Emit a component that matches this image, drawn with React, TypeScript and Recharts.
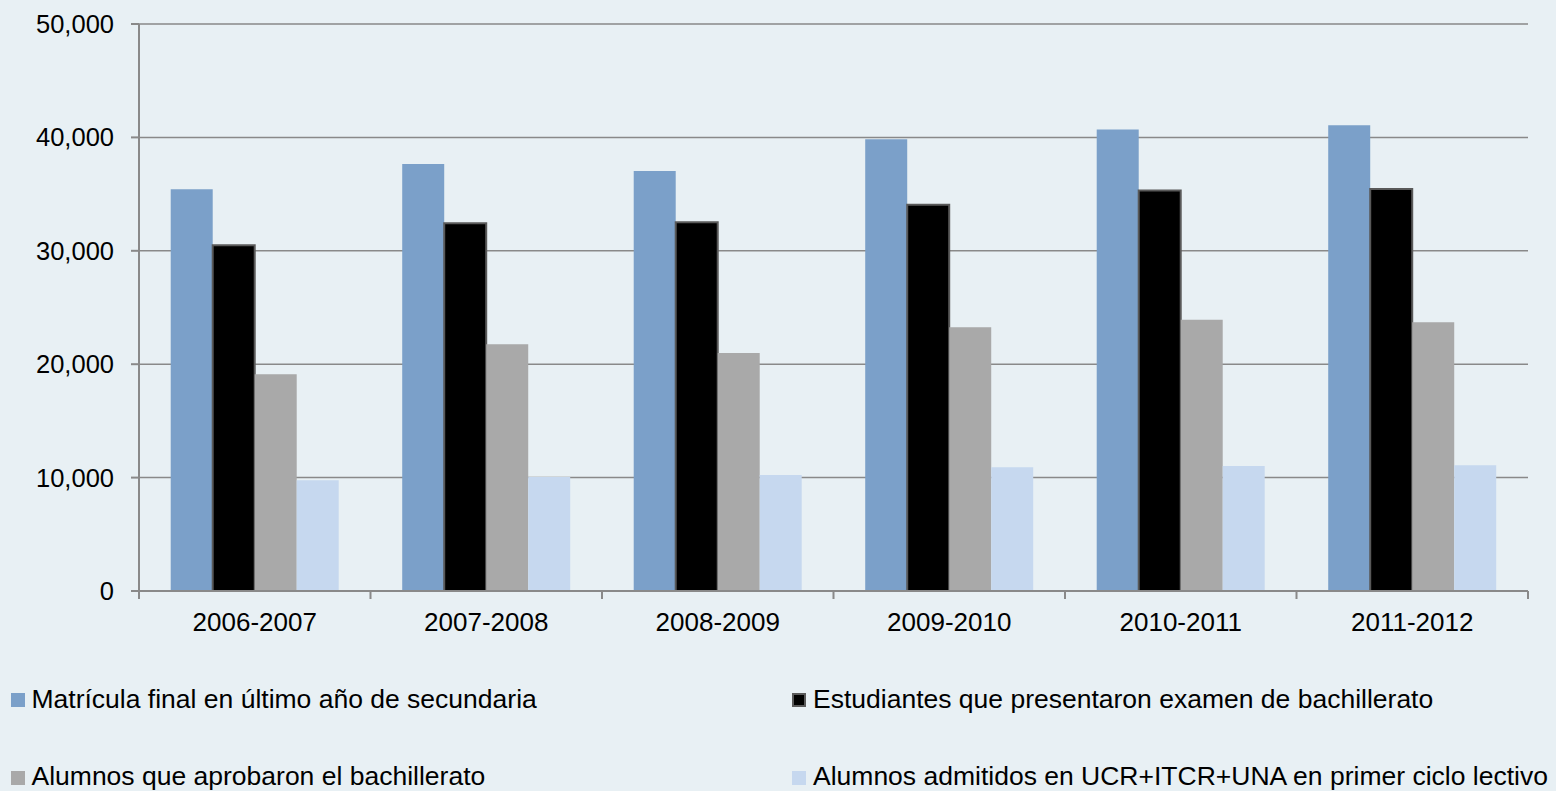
import React from 'react';
import { BarChart, Bar, XAxis, YAxis, CartesianGrid, Legend } from 'recharts';

const categories = ['2006-2007', '2007-2008', '2008-2009', '2009-2010', '2010-2011', '2011-2012'];
const matricula = [35420, 37650, 37040, 39830, 40690, 41070];
const presentaron = [30490, 32420, 32510, 34070, 35310, 35450];
const aprobaron = [19110, 21760, 20990, 23250, 23930, 23690];
const admitidos = [9760, 10050, 10230, 10910, 11020, 11080];
const seriesNames = [
  'Matrícula final en último año de secundaria',
  'Estudiantes que presentaron examen de bachillerato',
  'Alumnos que aprobaron el bachillerato',
  'Alumnos admitidos en UCR+ITCR+UNA en primer ciclo lectivo',
];
const seriesColors = ['#7ba0c9', '#000000', '#a9a9a9', '#c6d8ef'];
const yTicks = [0, 10000, 20000, 30000, 40000, 50000];

const data = categories.map((c, i) => ({
  cat: c,
  s0: matricula[i],
  s1: presentaron[i],
  s2: aprobaron[i],
  s3: admitidos[i],
}));

const AXIS = '#898989';
const FONT = '"Liberation Sans", Arial, sans-serif';

const XTick = (props: any) => {
  const { x, y, payload, index, visibleTicksCount } = props;
  const half = payload && payload.offset ? payload.offset : (1556 - 139 - 28) / 12;
  const axisY = y - 8;
  const isLast = index === (visibleTicksCount ?? categories.length) - 1;
  return (
    <g>
      <line x1={x - half} x2={x - half} y1={axisY} y2={axisY + 8} stroke={AXIS} strokeWidth={2} />
      {isLast && <line x1={x + half} x2={x + half} y1={axisY} y2={axisY + 8} stroke={AXIS} strokeWidth={2} />}
      <text x={x} y={axisY + 40} textAnchor="middle" fontSize={26} fontFamily={FONT} fill="#000">
        {payload.value}
      </text>
    </g>
  );
};

const LegendContent = (props: any) => {
  const payload = [...(props.payload || [])].sort(
    (a: any, b: any) => seriesNames.indexOf(a.value) - seriesNames.indexOf(b.value)
  );
  return (
    <div style={{ position: 'relative', width: 1556, height: 791 }}>
      {payload.map((p: any, i: number) => {
        const col = i % 2;
        const row = Math.floor(i / 2);
        const markerLeft = col === 0 ? 11 : 792;
        const textLeft = col === 0 ? 31.5 : 813;
        const baseline = row === 0 ? 708 : 785.5;
        const isBlack = p.color === '#000000';
        return (
          <React.Fragment key={i}>
            <div
              style={{
                position: 'absolute',
                left: markerLeft,
                top: baseline - 15,
                width: 14,
                height: 14,
                background: p.color,
                boxSizing: 'border-box',
                border: isBlack ? '2px solid #5a5a5a' : 'none',
              }}
            />
            <div
              style={{
                position: 'absolute',
                left: textLeft,
                top: baseline - 22.5,
                fontFamily: FONT,
                fontSize: 26.5,
                lineHeight: '26.5px',
                color: '#000',
                whiteSpace: 'nowrap',
              }}
            >
              {p.value}
            </div>
          </React.Fragment>
        );
      })}
    </div>
  );
};

export default function App() {
  return (
    <div style={{ position: 'absolute', left: 0, top: 0, width: 1556, height: 791, background: '#e8f0f4', overflow: 'hidden' }}>
      <BarChart
        width={1556}
        height={791}
        data={data}
        margin={{ top: 24, right: 28, left: 0, bottom: 0 }}
        barCategoryGap="13.7%"
        barGap={0}
      >
        <CartesianGrid vertical={false} stroke={AXIS} strokeWidth={1.5} />
        <XAxis
          dataKey="cat"
          height={200}
          axisLine={{ stroke: AXIS, strokeWidth: 2 }}
          tickLine={false}
          tickSize={8}
          tickMargin={0}
          tick={<XTick />}
          interval={0}
        />
        <YAxis
          width={139}
          domain={[0, 50000]}
          ticks={yTicks}
          interval={0}
          tickFormatter={(v: number) => v.toLocaleString('en-US')}
          axisLine={{ stroke: AXIS, strokeWidth: 2 }}
          tickLine={{ stroke: AXIS, strokeWidth: 2 }}
          tickSize={8}
          tickMargin={17}
          tick={{ fontSize: 25.5, fill: '#000', fontFamily: FONT }}
        />
        <Legend
          layout="vertical"
          verticalAlign="middle"
          align="center"
          wrapperStyle={{ left: 0, top: 0, width: 1556, height: 791, pointerEvents: 'none' }}
          content={<LegendContent />}
        />
        <Bar dataKey="s0" name={seriesNames[0]} fill={seriesColors[0]} isAnimationActive={false} />
        <Bar dataKey="s1" name={seriesNames[1]} fill={seriesColors[1]} stroke="#595959" strokeWidth={2} isAnimationActive={false} />
        <Bar dataKey="s2" name={seriesNames[2]} fill={seriesColors[2]} isAnimationActive={false} />
        <Bar dataKey="s3" name={seriesNames[3]} fill={seriesColors[3]} isAnimationActive={false} />
      </BarChart>
    </div>
  );
}
